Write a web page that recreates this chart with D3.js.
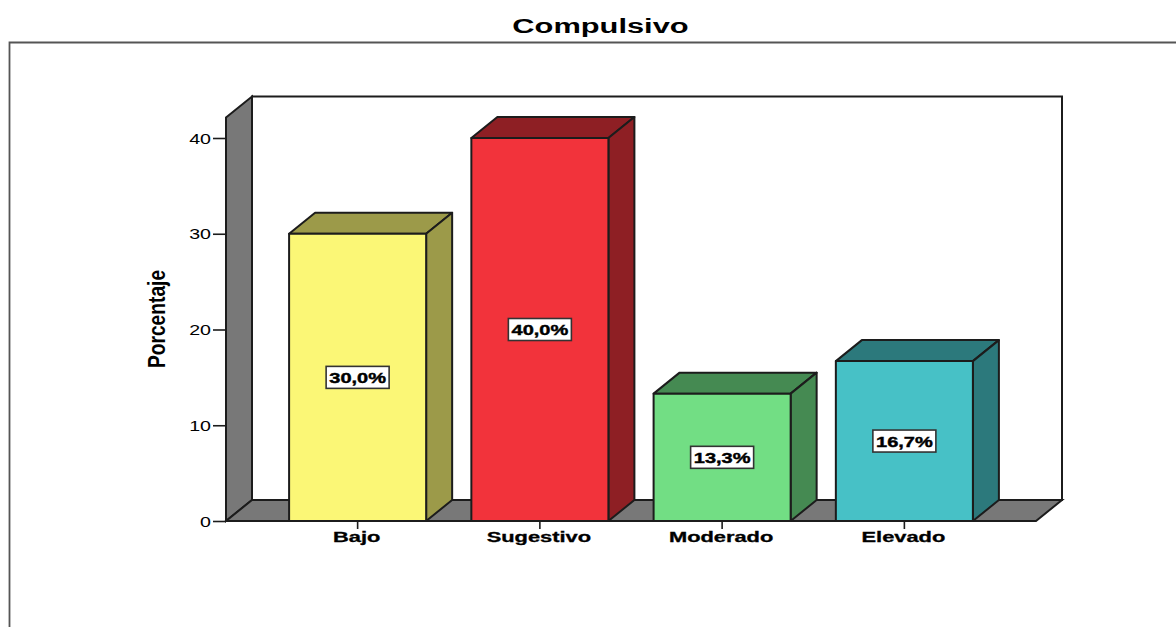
<!DOCTYPE html>
<html>
<head>
<meta charset="utf-8">
<style>
  html, body { margin: 0; padding: 0; background: #fff; }
  svg { display: block; }
  text { font-family: "Liberation Sans", Arial, sans-serif; fill: #000; }
</style>
<script src="https://cdn.jsdelivr.net/npm/d3@7"></script>
</head>
<body>
<svg id="chart" width="1176" height="627"></svg>
<script>
const titleText = "Compulsivo";
const yAxisLabel = "Porcentaje";
const categories = ["Bajo", "Sugestivo", "Moderado", "Elevado"];
const percentages = [30.0, 40.0, 13.3, 16.7];
const yTicks = [0, 10, 20, 30, 40];
const frontColors = ["#FBF776", "#F2333B", "#72DE84", "#47C1C6"];
const sideColors = ["#9C9A49", "#8E1F24", "#458A52", "#2C797C"];

const svg = d3.select("#chart");
const edge = "#1c1c1c";
const wallGrey = "#787878";

// Oblique projection offset of the 3D box
const depthX = 26, depthY = -21;
const plotLeft = 226, plotRight = 1036;

const y = d3.scaleLinear().domain([0, 40]).range([521, 138]);
const x = d3.scaleBand().domain(categories).range([266.5, 995.5]).paddingInner(0.248).paddingOuter(0.124);

const poly = pts => pts.map(p => p.join(",")).join(" ");
const plotTop = y(40) - 20.5;

// Stretches text horizontally by a factor, the way a wide export renders it
function stretch(sel, factor) {
  sel.each(function () {
    const n = this.getComputedTextLength();
    d3.select(this).attr("textLength", n * factor).attr("lengthAdjust", "spacingAndGlyphs");
  });
}

// Outer chart frame
svg.append("path")
  .attr("d", "M9.5,627V42.5H1176")
  .attr("fill", "none").attr("stroke", "#555").attr("stroke-width", 1.8);

// Title
svg.append("text").attr("x", 600.5).attr("y", 33)
  .attr("text-anchor", "middle").attr("font-weight", 700).attr("font-size", 19.5)
  .text(titleText).call(stretch, 1.58);

// Back wall
svg.append("rect")
  .attr("x", plotLeft + depthX).attr("y", plotTop + depthY)
  .attr("width", plotRight - plotLeft).attr("height", y(0) - plotTop)
  .attr("fill", "#fff").attr("stroke", edge).attr("stroke-width", 2);

// Left wall
svg.append("polygon")
  .attr("points", poly([
    [plotLeft, plotTop], [plotLeft + depthX, plotTop + depthY],
    [plotLeft + depthX, y(0) + depthY], [plotLeft, y(0)]
  ]))
  .attr("fill", wallGrey).attr("stroke", edge).attr("stroke-width", 2);

// Floor
svg.append("polygon")
  .attr("points", poly([
    [plotLeft, y(0)], [plotLeft + depthX, y(0) + depthY],
    [plotRight + depthX, y(0) + depthY], [plotRight, y(0)]
  ]))
  .attr("fill", wallGrey).attr("stroke", edge).attr("stroke-width", 2);

// Bars: top and side faces first, then the front
const rows = categories.map((c, i) => ({ c, v: percentages[i], front: frontColors[i], side: sideColors[i] }));
const bars = svg.append("g").selectAll("g").data(rows).join("g")
  .attr("stroke", edge).attr("stroke-width", 2).attr("stroke-linejoin", "round");

bars.append("polygon").attr("fill", d => d.side).attr("points", d => {
  const l = x(d.c), r = l + x.bandwidth(), t = y(d.v);
  return poly([[l, t], [l + depthX, t + depthY], [r + depthX, t + depthY], [r, t]]);
});
bars.append("polygon").attr("fill", d => d.side).attr("points", d => {
  const r = x(d.c) + x.bandwidth(), t = y(d.v), b = y(0);
  return poly([[r, t], [r + depthX, t + depthY], [r + depthX, b + depthY], [r, b]]);
});
bars.append("rect").attr("fill", d => d.front)
  .attr("x", d => x(d.c)).attr("y", d => y(d.v))
  .attr("width", x.bandwidth()).attr("height", d => y(0) - y(d.v));

// Value labels at mid height of each bar
const fmt = v => v.toFixed(1).replace(".", ",") + "%";
const labels = svg.append("g").selectAll("g").data(rows).join("g")
  .attr("transform", d => `translate(${x(d.c) + x.bandwidth() / 2},${y(d.v / 2)})`);
labels.append("rect")
  .attr("x", -31.5).attr("y", -11).attr("width", 63).attr("height", 22)
  .attr("fill", "#fff").attr("stroke", "#333").attr("stroke-width", 1.6);
labels.append("text").attr("text-anchor", "middle").attr("y", 5.5)
  .attr("font-weight", 700).attr("font-size", 14.5)
  .attr("stroke", "#000").attr("stroke-width", 0.4)
  .text(d => fmt(d.v)).call(stretch, 1.38);

// Y axis
const yAxis = svg.append("g").attr("transform", `translate(${plotLeft},0)`)
  .call(d3.axisLeft(y).tickValues(yTicks).tickSize(13).tickPadding(2));
yAxis.select(".domain").remove();
yAxis.selectAll("line").attr("stroke", edge).attr("stroke-width", 1.6);
yAxis.selectAll("text").attr("font-size", 14).attr("dy", "0.36em").call(stretch, 1.4);

// X axis
const xAxis = svg.append("g").attr("transform", `translate(0,${y(0)})`)
  .call(d3.axisBottom(x).tickSize(8).tickPadding(3));
xAxis.select(".domain").remove();
xAxis.selectAll("line").attr("stroke", edge).attr("stroke-width", 1.6);
xAxis.selectAll("text").attr("font-size", 14).attr("font-weight", 700).attr("dx", -1)
  .attr("stroke", "#000").attr("stroke-width", 0.3).call(stretch, 1.56);

// Y axis title, condensed along its length
svg.append("text")
  .attr("transform", "translate(165,319) rotate(-90)")
  .attr("text-anchor", "middle").attr("font-weight", 700).attr("font-size", 24)
  .text(yAxisLabel).call(stretch, 0.8);
</script>
</body>
</html>
